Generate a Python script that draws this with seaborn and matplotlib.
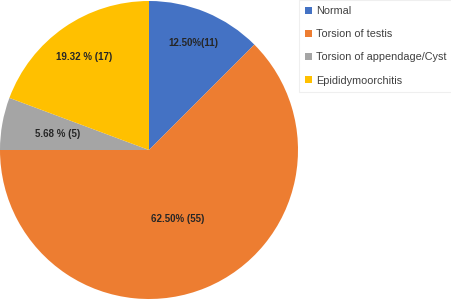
import numpy as np
import matplotlib
matplotlib.use("Agg")
import matplotlib.pyplot as plt
import seaborn as sns
from matplotlib.patches import Patch

categories = ["Normal", "Torsion of testis", "Torsion of appendage/Cyst", "Epididymoorchitis"]
counts = [11, 55, 5, 17]
labels = ["12.50%(11)", "62.50% (55)", "5.68 % (5)", "19.32 % (17)"]
colors = ["#4472C4", "#ED7D31", "#A5A5A5", "#FFC000"]

sns.set_theme(style="white")
plt.rcParams['font.family'] = ['Liberation Sans', 'DejaVu Sans']

fig = plt.figure(figsize=(4.52, 3.0), dpi=100)
ax = fig.add_axes([0, 1/300, 298/452, 298/300])
wedges, _ = ax.pie(counts, colors=colors, startangle=90, counterclock=False,
                   radius=1.0, wedgeprops=dict(linewidth=0))
ax.set_xlim(-1, 1)
ax.set_ylim(-1, 1)
ax.set_aspect('equal')
ax.axis('off')

dists = [0.78, 0.5, 0.62, 0.76]
for w, lab, d in zip(wedges, labels, dists):
    mid = np.deg2rad((w.theta1 + w.theta2) / 2)
    ax.text(d * np.cos(mid), d * np.sin(mid), lab, ha='center', va='center',
            fontsize=7, fontweight='bold', color='#262626')

handles = [Patch(facecolor=c, edgecolor='none') for c in colors]
leg = fig.legend(handles, categories, loc='upper left',
                 bbox_to_anchor=(299/452, 1.0), bbox_transform=fig.transFigure,
                 frameon=True, fontsize=7.8, handlelength=0.65, handleheight=0.65,
                 handletextpad=0.35, labelspacing=1.22, borderpad=0.55,
                 borderaxespad=0, fancybox=False, labelcolor='#404040')
leg.get_frame().set_edgecolor('#EBEBEB')
leg.get_frame().set_linewidth(0.8)

fig.savefig("out.png", dpi=100)
